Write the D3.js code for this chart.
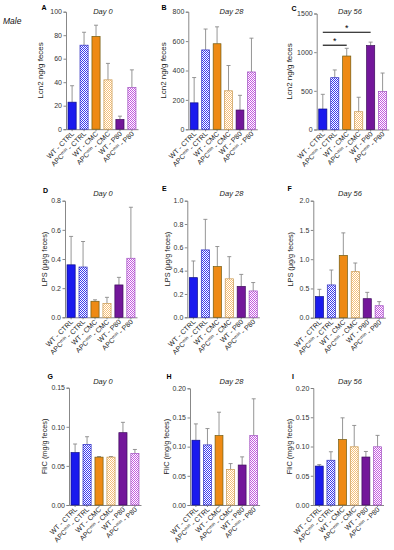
<!DOCTYPE html>
<html><head><meta charset="utf-8">
<script src="https://cdn.jsdelivr.net/npm/d3@7"></script>
<style>body{margin:0;background:#fff}svg{display:block;font-family:"Liberation Sans",Arial,sans-serif}</style>
</head><body><svg id="c" width="394" height="550"></svg>
<script>
// ---------- data ----------
const categories = ["WT - CTRL","APCmin - CTRL","WT - CMC","APCmin - CMC","WT - P80","APCmin - P80"];
const panelLetters = ["A","B","C","D","E","F","G","H","I"];
const dayTitles = ["Day 0","Day 28","Day 56"];
const yLabels = ["Lcn2 ng/g feces","LPS (\u03bcg/g feces)","FliC (mg/g feces)"];

const lcn2Day0 = [23, 71.5, 79, 42, 8.3, 35.5];
const lcn2Day0Err = [14, 11, 9.5, 14, 2.8, 15];
const lcn2Day28 = [180, 540, 582, 262, 131, 390];
const lcn2Day28Err = [172, 142, 115, 172, 100, 230];
const lcn2Day56 = [265, 670, 950, 230, 1085, 490];
const lcn2Day56Err = [190, 100, 100, 187, 45, 240];

const lpsDay0 = [0.36, 0.345, 0.11, 0.095, 0.222, 0.405];
const lpsDay0Err = [0.195, 0.175, 0.01, 0.042, 0.052, 0.35];
const lpsDay28 = [0.34, 0.578, 0.435, 0.33, 0.265, 0.226];
const lpsDay28Err = [0.143, 0.262, 0.172, 0.19, 0.103, 0.072];
const lpsDay56 = [0.36, 0.56, 1.065, 0.787, 0.325, 0.205];
const lpsDay56Err = [0.125, 0.255, 0.385, 0.148, 0.108, 0.07];

const flicDay0 = [0.067, 0.0775, 0.0612, 0.0612, 0.0925, 0.066];
const flicDay0Err = [0.011, 0.0098, 0.0008, 0.0008, 0.0132, 0.005];
const flicDay28 = [0.111, 0.103, 0.119, 0.061, 0.0685, 0.119];
const flicDay28Err = [0.028, 0.028, 0.04, 0.01, 0.014, 0.063];
const flicDay56 = [0.0665, 0.0765, 0.112, 0.0995, 0.082, 0.0995];
const flicDay56Err = [0.0025, 0.0145, 0.037, 0.0365, 0.0095, 0.0195];

const yMax = [100, 800, 1500, 0.8, 1.0, 2.0, 0.15, 0.20, 0.20];
const yTicks = [
  [0,20,40,60,80,100],[0,200,400,600,800],[0,500,1000,1500],
  [0,0.2,0.4,0.6,0.8],[0,0.2,0.4,0.6,0.8,1.0],[0,0.5,1.0,1.5,2.0],
  [0,0.05,0.10,0.15],[0,0.05,0.10,0.15,0.20],[0,0.05,0.10,0.15,0.20]];
const tickFormats = ["d","d","d",".1f",".1f",".1f",".2f",".2f",".2f"];
// significance brackets on panel C: [from bar, to bar, value]
const sigC = [[0, 2, 1090, "*"], [0, 4, 1258, "*"]];

const values = [lcn2Day0, lcn2Day28, lcn2Day56, lpsDay0, lpsDay28, lpsDay56, flicDay0, flicDay28, flicDay56];
const errors = [lcn2Day0Err, lcn2Day28Err, lcn2Day56Err, lpsDay0Err, lpsDay28Err, lpsDay56Err, flicDay0Err, flicDay28Err, flicDay56Err];

// ---------- layout ----------
const layout = [
  {ax:66,   step:12.0, top:11.7,  bot:129.2, lx:43,  letter:[41.5,10]},
  {ax:188.3,step:11.5, top:11.7,  bot:129.3, lx:166, letter:[161.5,10]},
  {ax:316.7,step:12.0, top:13.5,  bot:129.5, lx:291.5,letter:[291.5,11]},
  {ax:65,   step:12.0, top:200.7, bot:317.3, lx:46.5, letter:[43,192.5]},
  {ax:187.3,step:12.0, top:200.7, bot:317.3, lx:170, letter:[162,191]},
  {ax:313.3,step:12.0, top:200.7, bot:317.7, lx:293, letter:[287.5,191]},
  {ax:69,   step:12.0, top:387.7, bot:505,   lx:46.5, letter:[47.5,379]},
  {ax:190,  step:11.6, top:388.3, bot:505,   lx:169, letter:[166.5,379]},
  {ax:313.3,step:11.7, top:388,   bot:505,   lx:292, letter:[292,379]}
];
const titleX = [103, 231.5, 350];
const titleY = [14, 196, 384];

const fills = ["#1a1aee","url(#pBlue)","#ee8a14","url(#pOrange)","#73179a","url(#pPurple)"];
const strokes = ["#0a0a8a","#3030c0","#6f5a10","#c89850","#3c0c5a","#a050c0"];

const svg = d3.select("#c");
const defs = svg.append("defs");
function checker(id, col) {
  const p = defs.append("pattern").attr("id", id).attr("patternUnits","userSpaceOnUse")
    .attr("width", 2).attr("height", 2);
  p.append("rect").attr("width",2).attr("height",2).attr("fill","#fff");
  p.append("rect").attr("width",1).attr("height",1).attr("fill",col);
  p.append("rect").attr("x",1).attr("y",1).attr("width",1).attr("height",1).attr("fill",col);
}
checker("pBlue", "#3a3af0");
checker("pOrange", "#f6c078");
checker("pPurple", "#c45ae0");

svg.append("text").attr("x", 3).attr("y", 24).attr("font-size", 8.5)
  .attr("font-style","italic").attr("fill","#111").text("Male");

const axisCol = "#7a7a7a";

layout.forEach((L, i) => {
  const g = svg.append("g");
  const x = d3.scaleBand().domain(categories).range([L.ax, L.ax + 6 * L.step])
    .paddingInner(0.32).paddingOuter(0.17);
  const y = d3.scaleLinear().domain([0, yMax[i]]).range([L.bot, L.top]);

  // y axis
  const ya = g.append("g").attr("transform", `translate(${L.ax},0)`)
    .call(d3.axisLeft(y).tickValues(yTicks[i]).tickFormat(d3.format(tickFormats[i])).tickSize(2.5).tickPadding(1.5));
  ya.select(".domain").attr("stroke", axisCol).attr("stroke-width", 0.9);
  ya.selectAll(".tick line").attr("stroke", axisCol).attr("stroke-width", 0.9);
  ya.selectAll(".tick text").attr("font-size", 7).attr("fill","#333").attr("font-family","Liberation Sans, Arial, sans-serif");

  // x axis
  const xa = g.append("g").attr("transform", `translate(0,${L.bot})`)
    .call(d3.axisBottom(x).tickSize(2).tickSizeOuter(0).tickFormat(""));
  xa.select(".domain").attr("stroke", axisCol).attr("stroke-width", 0.9);
  xa.selectAll(".tick line").attr("stroke", axisCol).attr("stroke-width", 0.9);

  // error bars
  const vals = values[i], errs = errors[i];
  const eg = g.append("g");
  categories.forEach((c, j) => {
    const cx = x(c) + x.bandwidth() / 2;
    const yt = y(vals[j] + errs[j]);
    eg.append("line").attr("x1", cx).attr("x2", cx).attr("y1", y(vals[j])).attr("y2", yt)
      .attr("stroke", "#8a8a8a").attr("stroke-width", 0.9);
    eg.append("line").attr("x1", cx - 2).attr("x2", cx + 2).attr("y1", yt).attr("y2", yt)
      .attr("stroke", "#8a8a8a").attr("stroke-width", 0.9);
  });

  // bars
  g.selectAll("rect.bar").data(categories).join("rect").attr("class","bar")
    .attr("x", c => x(c)).attr("width", x.bandwidth())
    .attr("y", (c, j) => y(vals[j])).attr("height", (c, j) => L.bot - y(vals[j]))
    .attr("fill", (c, j) => fills[j]).attr("stroke", (c, j) => strokes[j]).attr("stroke-width", 0.7);

  // x labels
  categories.forEach((c, j) => {
    const cx = x(c) + x.bandwidth() / 2 + 2.5;
    const t = g.append("text").attr("transform", `translate(${cx},${L.bot + 5}) rotate(-45)`)
      .attr("text-anchor","end").attr("font-size", 7).attr("fill","#222");
    if (c.startsWith("APCmin")) {
      t.append("tspan").text("APC");
      t.append("tspan").attr("font-size", 4.5).attr("dy", -2.5).text("min");
      t.append("tspan").attr("dy", 2.5).text(c.slice(6));
    } else t.text(c);
  });

  // y label
  const row = Math.floor(i / 3);
  g.append("text").attr("transform", `translate(${L.lx},${(L.top + L.bot) / 2}) rotate(-90)`)
    .attr("text-anchor","middle").attr("font-size", row === 0 ? 8 : 7.3).attr("fill","#222")
    .text(yLabels[row]);

  // title
  g.append("text").attr("x", titleX[i % 3]).attr("y", titleY[row]).attr("text-anchor","middle")
    .attr("font-size", 7.5).attr("font-style","italic").attr("fill","#222").text(dayTitles[i % 3]);

  // panel letter
  g.append("text").attr("x", L.letter[0]).attr("y", L.letter[1]).attr("font-size", 7)
    .attr("font-weight","bold").attr("fill","#000").text(panelLetters[i]);

  // significance
  if (i === 2) {
    sigC.forEach(s => {
      const x1 = x(categories[s[0]]) + x.bandwidth() / 2;
      const x2 = x(categories[s[1]]) + x.bandwidth() / 2;
      const yy = y(s[2]);
      g.append("line").attr("x1", x1).attr("x2", x2).attr("y1", yy).attr("y2", yy)
        .attr("stroke", "#000").attr("stroke-width", 1.1);
      g.append("text").attr("x", (x1 + x2) / 2).attr("y", yy - 1.5).attr("text-anchor","middle")
        .attr("font-size", 9).attr("fill","#000").text(s[3]);
    });
  }
});
</script></body></html>
